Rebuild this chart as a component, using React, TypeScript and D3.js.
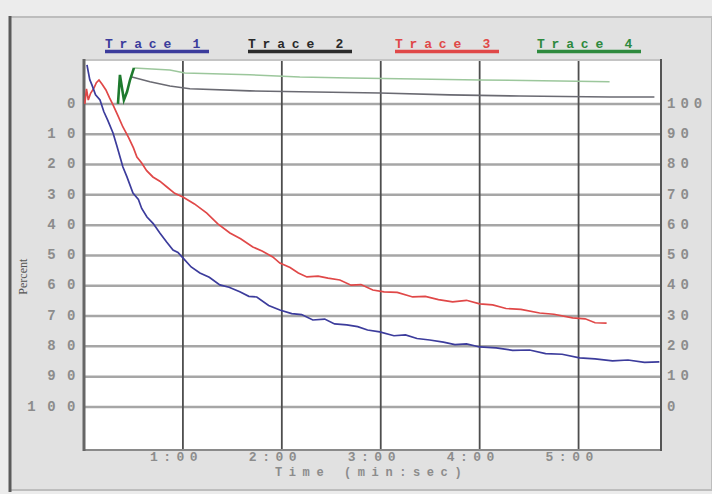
import React from "react";
import { scaleLinear, line } from "d3";

// values: [time in seconds, percent on left axis]
const trace1 = [
  [1.8, -12.9], [3.5, -8], [4.8, -6.3], [7, -3], [9.7, -1.3], [12, 2.5], [14.5, 5.5], [17.6, 9.6],
  [20, 14], [23.6, 20.8], [26, 24], [29.7, 29.4], [33, 31.5], [35, 34.5], [38.2, 37.3], [42, 39.5],
  [46, 42.6], [50, 45.5], [54, 48.2], [57, 49], [60, 50.8], [65, 53.8], [70.3, 55.8], [76, 57.2],
  [82.4, 59.7], [88, 60.5], [94.5, 62], [100, 63.5], [104.8, 63.7], [112, 66.5], [118.8, 68],
  [126, 69.2], [132, 69.5], [138.8, 71.3], [146, 71], [152, 72.6], [159.4, 72.9], [166, 73.5],
  [172, 74.6], [179.4, 75.2], [188, 76.5], [195, 76.2], [202, 77.4], [209.7, 77.9], [218, 78.6],
  [225, 79.4], [232, 79.2], [240, 80.2], [250, 80.5], [260, 81.3], [270.3, 81.2], [280, 82.4],
  [290, 82.6], [300.6, 83.8], [310, 84.1], [320.6, 84.8], [330, 84.5], [340, 85.3], [349, 85.1],
];

const trace2 = [
  [29.1, -8.9], [40, -7.3], [52.1, -5.9], [64.2, -5], [100.6, -4.3], [130.9, -4], [179.4, -3.6],
  [221.8, -3], [264.2, -2.6], [318.8, -2.3], [346, -2.3],
];

const trace3 = [
  [0.5, 0], [1.5, -5], [2.6, -1.3], [4, -3.5], [6.1, -5.3], [7.5, -7], [9.1, -7.9], [11, -6.5],
  [13.3, -4.6], [15.5, -2], [17.6, 0.3], [20.5, 3.8], [23.6, 7.6], [27, 11], [30, 14.5], [32.1, 17.5],
  [35, 19.5], [38, 22], [41.8, 24.1], [46, 25.5], [50.3, 27.4], [55, 29.5], [60, 30.7], [67, 33],
  [74.5, 36], [81, 39.5], [88.5, 42.6], [95, 44.5], [102.4, 47.2], [108, 48.5], [114.5, 50.5],
  [118.8, 52.5], [125, 54], [130, 55.8], [135.2, 57.1], [142, 56.8], [148, 57.5], [155.2, 58.1],
  [162, 59.8], [168, 59.6], [175.2, 61.4], [182, 62], [190, 62.2], [199.4, 63.7], [207, 63.5],
  [215, 64.6], [223.6, 65.3], [232, 64.8], [240, 66], [247.9, 66.3], [256, 67.5], [265, 67.8],
  [276.4, 69], [285, 69.4], [296.4, 70.6], [304, 70.9], [310, 72.2], [317, 72.3],
];

const trace4Spike = [
  [20.6, 0], [21.8, -9.6], [24.2, -1.3], [26.1, -4], [27.9, -7.9], [30.3, -11.9],
];
const trace4 = [
  [30.3, -11.9], [52.1, -11.2], [61.2, -10.2], [100.6, -9.6], [130.9, -8.9], [161.2, -8.6],
  [191.5, -8.3], [240, -7.9], [288.5, -7.6], [318.8, -7.3],
];

const leftTicks = [0, 10, 20, 30, 40, 50, 60, 70, 80, 90, 100];
const rightLabels = ["100", "90", "80", "70", "60", "50", "40", "30", "20", "10", "0"];
const timeTicks = [60, 120, 180, 240, 300];
const timeLabels = ["1:00", "2:00", "3:00", "4:00", "5:00"];
const legendNames = ["Trace 1", "Trace 2", "Trace 3", "Trace 4"];
const legendColors = ["#3c3c9c", "#2a2a2a", "#e04848", "#2e8a3e"];

const mono = "'Liberation Mono', 'DejaVu Sans Mono', monospace";

export default function App() {
  const left = 84;
  const right = 661;
  const top = 60;
  const bottom = 450;

  const x = scaleLinear().domain([0, 350]).range([left, right]);
  const y = scaleLinear().domain([-14.5, 114.2]).range([top, bottom]);
  const path = line<number[]>()
    .x((d) => x(d[0]))
    .y((d) => y(d[1]));

  return (
    <svg
      width={712}
      height={494}
      style={{ position: "absolute", left: 0, top: 0, display: "block" }}
    >
      {/* frame */}
      <rect x={0} y={0} width={712} height={494} fill="#ececec" />
      <rect x={10} y={17} width={702} height={473} fill="#e1e1e1" stroke="#bdbdbd" strokeWidth={2} />
      <line x1={10} x2={10} y1={16} y2={492} stroke="#5a5a5a" strokeWidth={3} />

      {/* legend */}
      {legendNames.map((name, i) => {
        const lx = [105, 248, 395, 537][i];
        return (
          <g key={name}>
            <text
              x={lx}
              y={48}
              fontFamily={mono}
              fontWeight="bold"
              fontSize={13}
              letterSpacing={6.8}
              fill={legendColors[i]}
            >
              {name}
            </text>
            <line x1={lx} x2={lx + 104} y1={51.5} y2={51.5} stroke={legendColors[i]} strokeWidth={3.5} />
          </g>
        );
      })}

      {/* plot area */}
      <rect x={left} y={top} width={right - left} height={bottom - top} fill="#ffffff" />
      {leftTicks.map((t) => (
        <line key={t} x1={left} x2={right} y1={y(t)} y2={y(t)} stroke="#a6a6a6" strokeWidth={2.5} />
      ))}
      {timeTicks.map((t) => (
        <line key={t} x1={x(t)} x2={x(t)} y1={top} y2={bottom} stroke="#4e4e4e" strokeWidth={1.8} />
      ))}
      <line x1={left} x2={right} y1={top} y2={top} stroke="#c4c4c4" strokeWidth={2} />
      <line x1={left} x2={right} y1={bottom} y2={bottom} stroke="#8a8a8a" strokeWidth={2} />
      <line x1={left} x2={left} y1={top - 1} y2={bottom + 1} stroke="#666" strokeWidth={3} />
      <line x1={right} x2={right} y1={top - 1} y2={bottom + 1} stroke="#555" strokeWidth={2} />

      {/* traces */}
      <path d={path(trace4) ?? ""} fill="none" stroke="#9cc79c" strokeWidth={1.5} />
      <path d={path(trace2) ?? ""} fill="none" stroke="#6a6a72" strokeWidth={1.6} />
      <path d={path(trace3) ?? ""} fill="none" stroke="#e04848" strokeWidth={1.7} />
      <path d={path(trace1) ?? ""} fill="none" stroke="#3c3c9c" strokeWidth={1.7} />
      <path d={path(trace4Spike) ?? ""} fill="none" stroke="#1e7a2e" strokeWidth={2.6} />

      {/* left axis labels */}
      {leftTicks.map((t) => (
        <text
          key={t}
          x={87}
          y={y(t)}
          textAnchor="end"
          dominantBaseline="middle"
          fontFamily={mono}
          fontWeight="bold"
          fontSize={14}
          letterSpacing={11.5}
          fill="#8c8c8c"
        >
          {t}
        </text>
      ))}
      <text
        transform={`translate(27,${y(57)}) rotate(-90)`}
        textAnchor="middle"
        fontFamily="'Liberation Serif', serif"
        fontSize={12}
        fill="#555"
      >
        Percent
      </text>

      {/* right axis labels */}
      {rightLabels.map((lab, i) => (
        <text
          key={lab}
          x={667}
          y={y(leftTicks[i])}
          dominantBaseline="middle"
          fontFamily={mono}
          fontWeight="bold"
          fontSize={14}
          letterSpacing={5}
          fill="#8c8c8c"
        >
          {lab}
        </text>
      ))}

      {/* time axis */}
      {timeTicks.map((t, i) => (
        <text
          key={t}
          x={x(t) - 33}
          y={461}
          fontFamily={mono}
          fontWeight="bold"
          fontSize={13}
          letterSpacing={5.5}
          fill="#8c8c8c"
        >
          {timeLabels[i]}
        </text>
      ))}
      <text
        x={275}
        y={476}
        fontFamily={mono}
        fontWeight="bold"
        fontSize={12}
        letterSpacing={6.6}
        fill="#8c8c8c"
      >
        Time (min:sec)
      </text>
    </svg>
  );
}
